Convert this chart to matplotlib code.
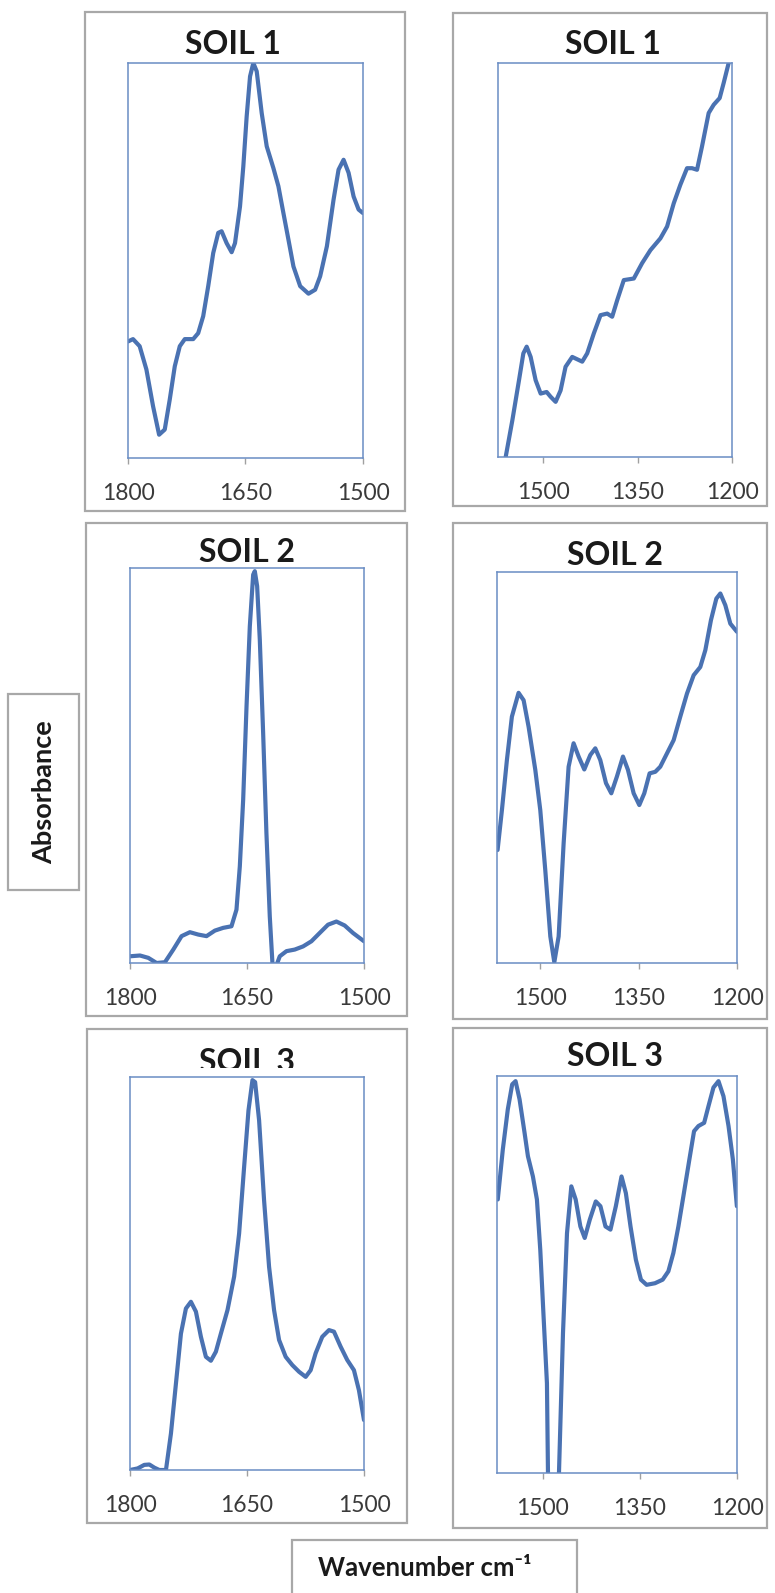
import matplotlib
matplotlib.use("Agg")
import matplotlib.pyplot as plt
from matplotlib.patches import Rectangle

plt.rcParams['font.family'] = ['Lato', 'DejaVu Sans']

# ---- data (wavenumber, relative absorbance) ----
# SOIL 1, 1800-1500
soil1_a_wn = [1800.0, 1793.6, 1785.1, 1776.5, 1768.0, 1760.3, 1753.1, 1746.7, 1740.3, 1733.9,
              1727.5, 1716.8, 1710.4, 1704.0, 1697.6, 1691.2, 1684.8, 1680.5, 1674.1, 1667.7,
              1663.4, 1657.0, 1652.8, 1648.5, 1644.2, 1640.0, 1635.7, 1629.3, 1622.9, 1614.4,
              1608.0, 1601.6, 1595.2, 1588.8, 1580.2, 1569.6, 1561.1, 1554.7, 1546.1, 1537.6,
              1531.2, 1524.8, 1518.4, 1512.0, 1505.6, 1500.0]
soil1_a_abs = [0.295, 0.301, 0.283, 0.224, 0.131, 0.059, 0.072, 0.148, 0.232, 0.283,
               0.301, 0.301, 0.316, 0.359, 0.435, 0.519, 0.570, 0.574, 0.544, 0.521,
               0.544, 0.637, 0.738, 0.865, 0.966, 1.000, 0.979, 0.873, 0.789, 0.734,
               0.688, 0.620, 0.553, 0.485, 0.435, 0.416, 0.426, 0.460, 0.536, 0.654,
               0.730, 0.755, 0.722, 0.662, 0.629, 0.620]

# SOIL 1, 1570-1200
soil1_b_wn = [1559.8, 1549.2, 1538.6, 1531.7, 1526.4, 1520.1, 1512.2, 1504.2, 1494.7, 1488.4,
              1480.4, 1472.5, 1464.6, 1454.0, 1438.1, 1430.2, 1419.6, 1409.0, 1398.4, 1390.5,
              1382.5, 1372.0, 1356.1, 1342.9, 1329.7, 1313.8, 1303.2, 1292.6, 1282.1, 1271.5,
              1263.5, 1255.6, 1247.7, 1237.1, 1229.1, 1219.6, 1213.3, 1205.3, 1200.0]
soil1_b_abs = [0.000, 0.093, 0.195, 0.263, 0.280, 0.254, 0.195, 0.161, 0.165, 0.153,
               0.140, 0.169, 0.229, 0.254, 0.242, 0.263, 0.314, 0.360, 0.364, 0.356,
               0.398, 0.449, 0.453, 0.492, 0.525, 0.555, 0.585, 0.644, 0.691, 0.733,
               0.733, 0.729, 0.788, 0.873, 0.894, 0.911, 0.949, 1.000, 1.030]

# SOIL 2, 1800-1500
soil2_a_wn = [1800.0, 1787.2, 1776.5, 1765.9, 1755.2, 1744.5, 1733.9, 1723.2, 1712.5, 1701.9,
              1691.2, 1680.5, 1669.9, 1663.5, 1659.2, 1654.9, 1650.6, 1646.4, 1642.1, 1640.0,
              1637.0, 1633.6, 1629.3, 1625.1, 1620.8, 1617.4, 1613.0, 1608.0, 1599.4, 1588.8,
              1578.1, 1567.4, 1556.8, 1546.1, 1535.4, 1524.8, 1514.1, 1500.0]
soil2_a_abs = [0.017, 0.019, 0.013, 0.000, 0.002, 0.034, 0.068, 0.078, 0.072, 0.068,
               0.082, 0.089, 0.093, 0.135, 0.245, 0.414, 0.650, 0.852, 0.983, 0.992,
               0.954, 0.819, 0.582, 0.329, 0.118, 0.000, -0.010, 0.017, 0.030, 0.034,
               0.042, 0.055, 0.076, 0.097, 0.105, 0.095, 0.076, 0.055]

# SOIL 2, 1566-1200
soil2_b_wn = [1565.1, 1558.5, 1550.9, 1543.3, 1533.1, 1525.4, 1517.8, 1507.6, 1500.0, 1492.4,
              1484.7, 1478.6, 1472.0, 1464.4, 1456.8, 1449.2, 1441.5, 1432.9, 1423.7, 1416.1,
              1408.5, 1399.8, 1391.7, 1383.1, 1373.9, 1366.3, 1357.6, 1349.0, 1341.4, 1333.3,
              1324.6, 1317.0, 1306.8, 1296.6, 1286.5, 1276.3, 1266.1, 1256.0, 1248.3, 1239.7,
              1231.5, 1225.4, 1217.8, 1210.2, 1200.0]
soil2_b_abs = [0.289, 0.391, 0.519, 0.630, 0.691, 0.672, 0.604, 0.494, 0.391, 0.238,
               0.068, 0.002, 0.068, 0.306, 0.502, 0.562, 0.528, 0.495, 0.532, 0.549,
               0.519, 0.460, 0.434, 0.477, 0.528, 0.494, 0.434, 0.404, 0.434, 0.485,
               0.489, 0.502, 0.536, 0.570, 0.630, 0.689, 0.736, 0.757, 0.800, 0.877,
               0.932, 0.945, 0.915, 0.868, 0.847]

# SOIL 3, 1800-1500
soil3_a_wn = [1800.0, 1790.2, 1781.7, 1775.2, 1768.8, 1762.4, 1753.9, 1747.5, 1741.1, 1734.7,
              1728.3, 1721.9, 1715.5, 1709.1, 1702.7, 1696.3, 1689.9, 1683.5, 1675.0, 1666.5,
              1660.1, 1653.7, 1648.1, 1643.0, 1639.6, 1634.5, 1628.1, 1621.7, 1615.3, 1608.9,
              1600.4, 1591.9, 1583.3, 1574.8, 1568.4, 1562.0, 1553.5, 1544.9, 1538.5, 1530.0,
              1521.5, 1512.9, 1506.5, 1500.0]
soil3_a_abs = [0.000, 0.004, 0.013, 0.014, 0.006, 0.000, 0.000, 0.093, 0.220, 0.347,
               0.411, 0.428, 0.403, 0.339, 0.288, 0.278, 0.301, 0.347, 0.407, 0.492,
               0.602, 0.771, 0.915, 0.992, 0.987, 0.890, 0.686, 0.517, 0.407, 0.331,
               0.288, 0.267, 0.250, 0.237, 0.254, 0.297, 0.339, 0.356, 0.352, 0.314,
               0.280, 0.254, 0.203, 0.127]

# SOIL 3, 1571-1200
soil3_b_wn = [1569.8, 1562.0, 1554.3, 1547.5, 1542.3, 1536.1, 1528.4, 1523.2, 1515.5, 1509.3,
              1504.1, 1499.0, 1493.8, 1492.2, 1485.5, 1475.2, 1469.0, 1462.8, 1456.1, 1449.4,
              1442.1, 1435.4, 1427.6, 1418.3, 1411.1, 1403.3, 1395.6, 1387.3, 1378.5, 1371.8,
              1364.6, 1356.3, 1348.5, 1339.7, 1326.8, 1314.9, 1306.1, 1298.4, 1290.6, 1282.9,
              1273.6, 1266.4, 1259.6, 1250.8, 1244.1, 1236.4, 1228.6, 1220.9, 1213.1, 1206.4,
              1200.2]
soil3_b_abs = [0.689, 0.815, 0.916, 0.979, 0.987, 0.941, 0.857, 0.798, 0.747, 0.689,
               0.562, 0.394, 0.226, 0.000, -0.350, 0.000, 0.352, 0.604, 0.722, 0.689,
               0.621, 0.592, 0.638, 0.684, 0.672, 0.621, 0.613, 0.672, 0.747, 0.705,
               0.621, 0.537, 0.487, 0.474, 0.478, 0.487, 0.508, 0.554, 0.621, 0.697,
               0.790, 0.861, 0.874, 0.882, 0.924, 0.971, 0.987, 0.949, 0.874, 0.790,
               0.672]

titles = ["SOIL 1", "SOIL 1", "SOIL 2", "SOIL 2", "SOIL 3", "SOIL 3"]
left_ticks = [1800, 1650, 1500]
right_ticks = [1500, 1350, 1200]

W, H = 775, 1593
LINE = '#4a72b2'
FRAME = '#6a8dc4'
BOX = '#a8a8a8'

fig = plt.figure(figsize=(W / 100, H / 100), dpi=100)


def box(x0, y0, x1, y1, z=-5, edge=BOX):
    fig.patches.append(Rectangle((x0 / W, 1 - y1 / H), (x1 - x0) / W, (y1 - y0) / H,
                                 transform=fig.transFigure, facecolor='white',
                                 edgecolor=edge, lw=1.6, zorder=z))


def panel(rect, wn, ab, xlim, ticks, title, title_xy):
    x0, y0, x1, y1 = rect
    ax = fig.add_axes([x0 / W, 1 - y1 / H, (x1 - x0) / W, (y1 - y0) / H], zorder=2)
    ax.plot(wn, ab, color=LINE, lw=3.0, solid_capstyle='round', solid_joinstyle='round')
    ax.set_xlim(*xlim)
    ax.set_ylim(0, 1)
    ax.set_xticks(ticks)
    ax.set_yticks([])
    for s in ax.spines.values():
        s.set_color(FRAME)
        s.set_linewidth(1.1)
    ax.tick_params(axis='x', direction='out', length=4, width=1, color='#a0a0a0',
                   labelsize=16.5, labelcolor='#3a3a3a', pad=14)
    fig.text(title_xy[0] / W, 1 - title_xy[1] / H, title, ha='center', va='center',
             fontsize=23, fontweight='bold', color='#1a1a1a', zorder=-1)
    return ax


# outer chart boxes
box(85, 12, 405, 511)
box(453, 13, 767, 506)
box(86, 523, 407, 1016)
box(453, 523, 767, 1019)
box(87, 1029, 407, 1523)
box(453, 1028, 767, 1528)

panel((128, 63, 363, 458), soil1_a_wn, soil1_a_abs, (1800, 1500), left_ticks, titles[0], (233, 44))
panel((498, 63, 732, 457), soil1_b_wn, soil1_b_abs, (1572, 1200), right_ticks, titles[1], (613, 44))
panel((130, 568, 364, 963), soil2_a_wn, soil2_a_abs, (1800, 1500), left_ticks, titles[2], (247, 552))
panel((497, 572, 737, 963), soil2_b_wn, soil2_b_abs, (1566, 1200), right_ticks, titles[3], (615, 555))
panel((130, 1077, 364, 1470), soil3_a_wn, soil3_a_abs, (1800, 1500), left_ticks, titles[4], (247, 1062))
panel((497, 1076, 737, 1473), soil3_b_wn, soil3_b_abs, (1571, 1200), right_ticks, titles[5], (615, 1057))

# plot-area fill of the lower-left chart overlaps its title
box(130, 1068, 364, 1077, z=0, edge='none')

# axis title boxes
box(8, 694, 79, 890)
fig.text(44 / W, 1 - 792 / H, "Absorbance", rotation=90, ha='center', va='center',
         fontsize=19.5, fontweight='bold', color='#1a1a1a')
box(292, 1540, 577, 1620)
fig.text(425 / W, 1 - 1568 / H, "Wavenumber cm\u207b\u00b9", ha='center', va='center',
         fontsize=18.5, fontweight='bold', color='#1a1a1a')

fig.savefig("out.png", dpi=100)
